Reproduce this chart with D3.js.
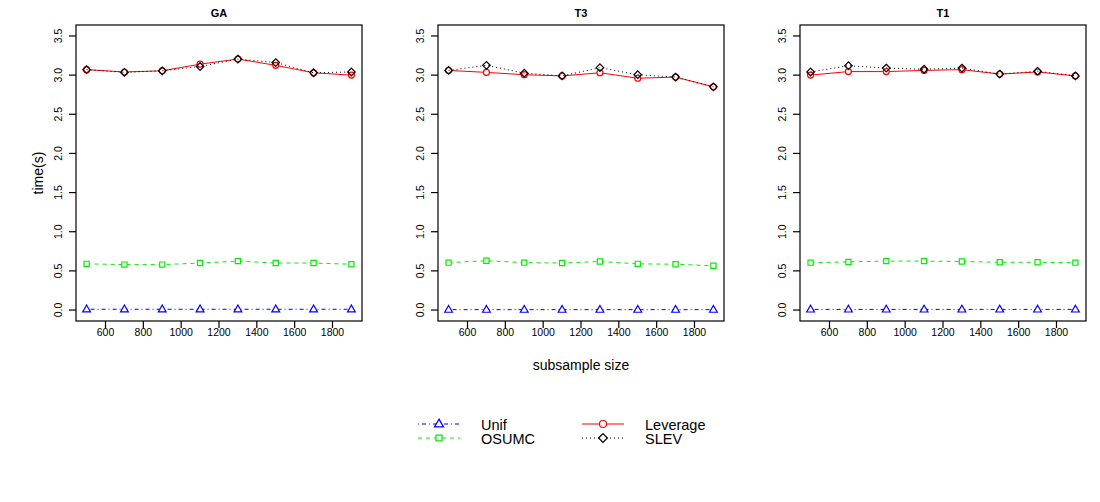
<!DOCTYPE html>
<html>
<head>
<meta charset="utf-8">
<script src="https://cdn.jsdelivr.net/npm/d3@7"></script>
<style>
  body { margin: 0; background: #fff; }
  text { font-family: "Liberation Sans", Arial, sans-serif; fill: #000; }
</style>
</head>
<body>
<div id="chart"></div>
<script>
// subsample sizes (x axis)
const sizes = [500, 700, 900, 1100, 1300, 1500, 1700, 1900];
const panelNames = ["GA", "T3", "T1"];
const yTicks = [0.0, 0.5, 1.0, 1.5, 2.0, 2.5, 3.0, 3.5];
const xTicks = [600, 800, 1000, 1200, 1400, 1600, 1800];

// GA
const gaUnif     = [0.01, 0.01, 0.01, 0.01, 0.01, 0.01, 0.01, 0.01];
const gaOsumc    = [0.59, 0.58, 0.58, 0.60, 0.625, 0.60, 0.60, 0.585];
const gaLeverage = [3.07, 3.04, 3.055, 3.14, 3.205, 3.125, 3.03, 3.00];
const gaSlev     = [3.07, 3.035, 3.055, 3.11, 3.205, 3.16, 3.03, 3.04];
// T3
const t3Unif     = [0.005, 0.005, 0.005, 0.005, 0.005, 0.005, 0.005, 0.005];
const t3Osumc    = [0.605, 0.63, 0.605, 0.60, 0.62, 0.59, 0.585, 0.565];
const t3Leverage = [3.06, 3.035, 3.005, 2.99, 3.03, 2.96, 2.975, 2.85];
const t3Slev     = [3.06, 3.125, 3.025, 2.99, 3.095, 3.005, 2.975, 2.85];
// T1
const t1Unif     = [0.008, 0.008, 0.008, 0.008, 0.008, 0.008, 0.008, 0.008];
const t1Osumc    = [0.605, 0.615, 0.625, 0.625, 0.62, 0.61, 0.61, 0.605];
const t1Leverage = [3.00, 3.045, 3.045, 3.06, 3.07, 3.013, 3.04, 2.99];
const t1Slev     = [3.04, 3.12, 3.09, 3.075, 3.09, 3.013, 3.05, 2.99];

const seriesNames = ["Unif", "OSUMC", "Leverage", "SLEV"];
const panelData = [
  [gaUnif, gaOsumc, gaLeverage, gaSlev],
  [t3Unif, t3Osumc, t3Leverage, t3Slev],
  [t1Unif, t1Osumc, t1Leverage, t1Slev]
];

// styles per series: colour, dash, marker shape
const styles = {
  Unif:     { color: "#0000ff", dash: "1,3,4,3", shape: "triangle" },
  OSUMC:    { color: "#00ee00", dash: "4,4",     shape: "square" },
  Leverage: { color: "#ff0000", dash: null,      shape: "circle" },
  SLEV:     { color: "#000000", dash: "1,3",     shape: "diamond" }
};

function markerPath(shape) {
  switch (shape) {
    case "triangle": return "M0,-4.2L3.9,2.6L-3.9,2.6Z";
    case "square":   return "M-2.6,-2.6H2.6V2.6H-2.6Z";
    case "diamond":  return "M0,-3.8L3.8,0L0,3.8L-3.8,0Z";
    default:         return "";
  }
}

const width = 1100, height = 502;
const svg = d3.select("#chart").append("svg")
  .attr("width", width)
  .attr("height", height);

const plotTop = 25, plotBottom = 321, plotW = 286;
const panelLeft = [76, 438, 800];

// R style 4% axis extension
const y = d3.scaleLinear().domain([-0.14, 3.64]).range([plotBottom, plotTop]);

panelNames.forEach((name, p) => {
  const left = panelLeft[p];
  const x = d3.scaleLinear().domain([444, 1956]).range([left, left + plotW]);
  const g = svg.append("g");

  // title
  g.append("text")
    .attr("x", left + plotW / 2)
    .attr("y", 16.5)
    .attr("text-anchor", "middle")
    .style("font-size", "11px")
    .style("font-weight", "bold")
    .text(name);

  // box
  g.append("rect")
    .attr("x", left).attr("y", plotTop)
    .attr("width", plotW).attr("height", plotBottom - plotTop)
    .attr("fill", "none").attr("stroke", "#000").attr("stroke-width", 1.2);

  // y axis
  const ya = g.append("g");
  yTicks.forEach(t => {
    ya.append("line")
      .attr("x1", left).attr("x2", left - 7)
      .attr("y1", y(t)).attr("y2", y(t))
      .attr("stroke", "#000").attr("stroke-width", 1.2);
    ya.append("text")
      .attr("transform", `translate(${left - 14.5},${y(t)}) rotate(-90)`)
      .attr("text-anchor", "middle")
      .style("font-size", "10.5px")
      .text(t.toFixed(1));
  });

  // x axis
  const xa = g.append("g");
  xTicks.forEach(t => {
    xa.append("line")
      .attr("x1", x(t)).attr("x2", x(t))
      .attr("y1", plotBottom).attr("y2", plotBottom + 7)
      .attr("stroke", "#000").attr("stroke-width", 1.2);
    xa.append("text")
      .attr("x", x(t)).attr("y", plotBottom + 15)
      .attr("text-anchor", "middle")
      .style("font-size", "10.5px")
      .text(t);
  });

  // series
  const line = d3.line().x((d, i) => x(sizes[i])).y(d => y(d));
  seriesNames.forEach((s, k) => {
    const vals = panelData[p][k];
    const st = styles[s];
    g.append("path")
      .attr("d", line(vals))
      .attr("fill", "none")
      .attr("stroke", st.color)
      .attr("stroke-width", 1)
      .attr("stroke-dasharray", st.dash);
    vals.forEach((v, i) => {
      if (st.shape === "circle") {
        g.append("circle")
          .attr("cx", x(sizes[i])).attr("cy", y(v)).attr("r", 3)
          .attr("fill", "#fff").attr("stroke", st.color).attr("stroke-width", 1.2);
      } else {
        g.append("path")
          .attr("transform", `translate(${x(sizes[i])},${y(v)})`)
          .attr("d", markerPath(st.shape))
          .attr("fill", st.shape === "diamond" ? "none" : "#fff")
          .attr("stroke", st.color).attr("stroke-width", 1.2);
      }
    });
  });
});

// axis titles
svg.append("text")
  .attr("transform", `translate(43,173) rotate(-90)`)
  .attr("text-anchor", "middle")
  .style("font-size", "14px")
  .text("time(s)");

svg.append("text")
  .attr("x", panelLeft[1] + plotW / 2)
  .attr("y", 370)
  .attr("text-anchor", "middle")
  .style("font-size", "14px")
  .text("subsample size");

// legend
const legendCols = [
  { lx: 418, tx: 481, names: ["Unif", "OSUMC"] },
  { lx: 582, tx: 645, names: ["Leverage", "SLEV"] }
];
const legendRows = [424, 438];
const lg = svg.append("g");
legendCols.forEach(col => {
  col.names.forEach((s, r) => {
    const st = styles[s];
    const cy = legendRows[r];
    lg.append("line")
      .attr("x1", col.lx).attr("x2", col.lx + 42)
      .attr("y1", cy).attr("y2", cy)
      .attr("stroke", st.color).attr("stroke-width", 1)
      .attr("stroke-dasharray", st.dash);
    const cx = col.lx + 21;
    if (st.shape === "circle") {
      lg.append("circle").attr("cx", cx).attr("cy", cy).attr("r", 3.5)
        .attr("fill", "#fff").attr("stroke", st.color).attr("stroke-width", 1.2);
    } else {
      lg.append("path")
        .attr("transform", `translate(${cx},${cy}) scale(1.15)`)
        .attr("d", markerPath(st.shape))
        .attr("fill", "#fff")
        .attr("stroke", st.color).attr("stroke-width", 1.1);
    }
    lg.append("text")
      .attr("x", col.tx).attr("y", cy + 6)
      .style("font-size", "14.5px")
      .text(s);
  });
});
</script>
</body>
</html>
